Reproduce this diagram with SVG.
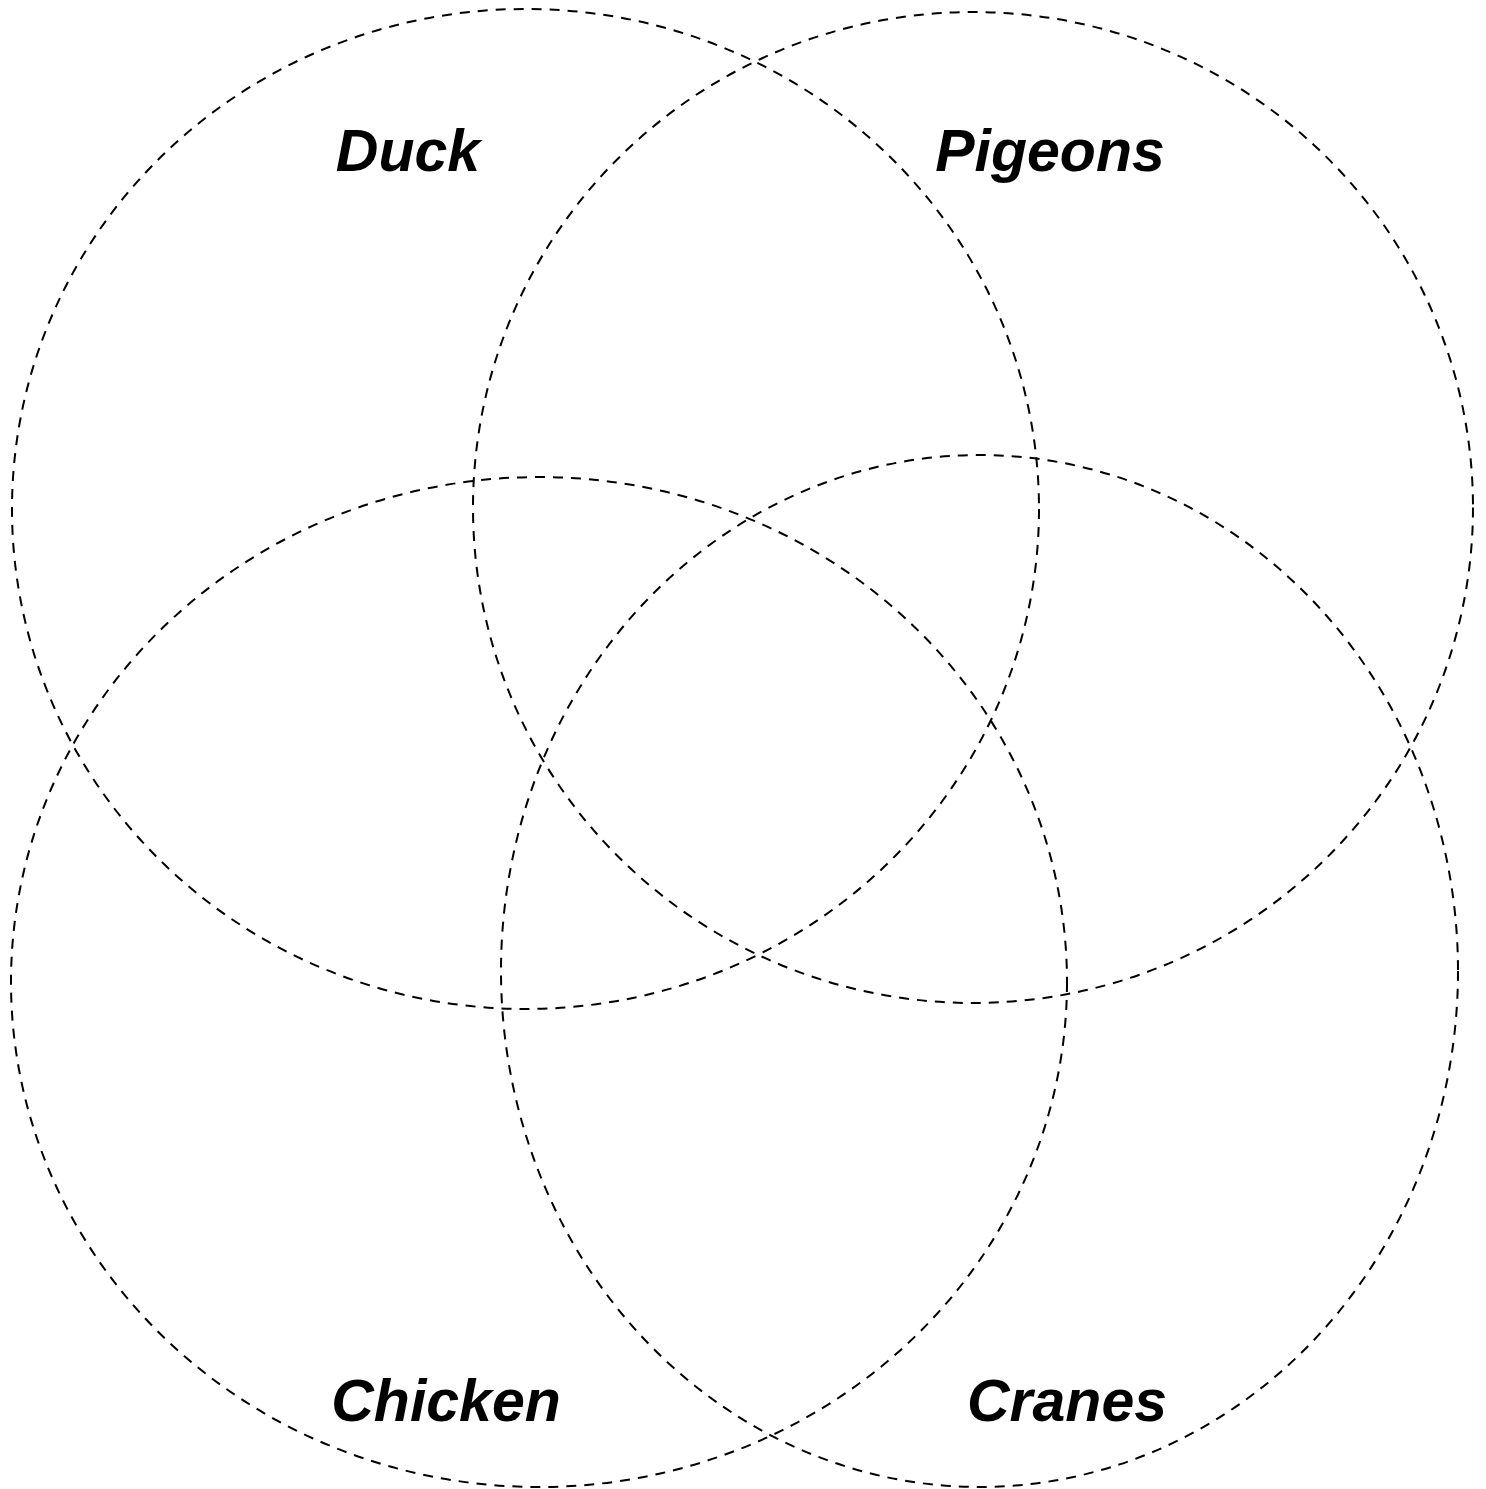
<svg xmlns="http://www.w3.org/2000/svg" width="1486" height="1489" viewBox="0 0 1486 1489">
<style>
.set{fill:none;stroke:#000;stroke-width:2;stroke-dasharray:10 8}
.lbl{font-family:"Liberation Sans",Arial,sans-serif;font-weight:bold;font-style:italic;font-size:59px;fill:#000;text-anchor:middle}
</style>
<rect width="1486" height="1489" fill="#fff"/>
<g id="connectors"></g>
<g id="duck"><ellipse class="set" cx="525.5" cy="509" rx="513.5" ry="500"/><text class="lbl" x="408" y="171">Duck</text></g>
<g id="pigeons"><ellipse class="set" cx="973" cy="507.5" rx="500" ry="495.5"/><text class="lbl" x="1050" y="171">Pigeons</text></g>
<g id="chicken"><ellipse class="set" cx="539" cy="982" rx="528" ry="505"/><text class="lbl" x="446" y="1421">Chicken</text></g>
<g id="cranes"><ellipse class="set" cx="979.5" cy="971" rx="478.5" ry="516"/><text class="lbl" x="1067" y="1421">Cranes</text></g>
</svg>
